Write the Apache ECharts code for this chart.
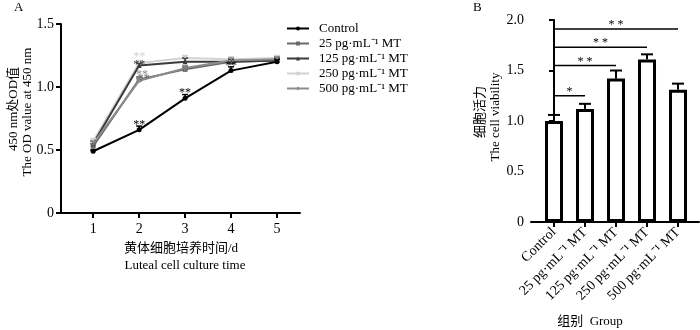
<!DOCTYPE html>
<html><head><meta charset="utf-8">
<script src="https://cdn.jsdelivr.net/npm/echarts@6/dist/echarts.min.js"></script>
<style>html,body{margin:0;padding:0;background:#fff}#c{width:700px;height:330px}</style>
</head><body><div id="c"></div>
<script>
// ---------- DATA ----------
const days = [1, 2, 3, 4, 5];
const seriesNames = ['Control', '25 pg·mL⁻¹ MT', '125 pg·mL⁻¹ MT', '250 pg·mL⁻¹ MT', '500 pg·mL⁻¹ MT'];
const controlOD = [0.49, 0.66, 0.91, 1.13, 1.20];
const mt25OD    = [0.53, 1.06, 1.14, 1.20, 1.21];
const mt125OD   = [0.55, 1.17, 1.20, 1.20, 1.21];
const mt250OD   = [0.57, 1.19, 1.23, 1.22, 1.23];
const mt500OD   = [0.55, 1.05, 1.15, 1.21, 1.22];
const controlErr = [0.01, 0.03, 0.03, 0.03, 0.02];
const mt25Err    = [0.02, 0.02, 0.02, 0.02, 0.02];
const mt125Err   = [0.02, 0.02, 0.03, 0.02, 0.02];
const mt250Err   = [0.02, 0.02, 0.02, 0.02, 0.02];
const mt500Err   = [0.02, 0.02, 0.02, 0.02, 0.02];
const yTicksA = [0, 0.5, 1.0, 1.5];
// significance marks in A: [day, value, text, seriesIndex]
const sigA = [
  [2, 0.72, '**', 0], [3, 0.98, '**', 0], [4, 1.19, '**', 0],
  [2, 1.26, '**', 3], [2, 1.20, '**', 2], [2.06, 1.12, '**', 4], [2.1, 1.09, '**', 1]
];

const groups = ['Control', '25 pg·mL⁻¹ MT', '125 pg·mL⁻¹ MT', '250 pg·mL⁻¹ MT', '500 pg·mL⁻¹ MT'];
const viability = [1.00, 1.12, 1.42, 1.61, 1.31];
const viabilityErr = [0.06, 0.05, 0.08, 0.05, 0.06];
const yTicksB = [0, 0.5, 1.0, 1.5, 2.0];
// brackets in B: [fromGroup, toGroup, value, text]
const sigB = [[0, 1, 1.25, '*'], [0, 2, 1.55, '* *'], [0, 3, 1.73, '* *'], [0, 4, 1.91, '* *']];

// ---------- STYLE ----------
const FONT = '"Liberation Serif", "Times New Roman", "Noto Sans CJK SC", serif';
const colors = ['#000000', '#6a6a6a', '#3a3a3a', '#d2d2d2', '#8c8c8c'];
const symbols = ['circle', 'rect', 'triangle', 'circle', 'diamond'];
const allOD = [controlOD, mt25OD, mt125OD, mt250OD, mt500OD];
const allErr = [controlErr, mt25Err, mt125Err, mt250Err, mt500Err];

const chart = echarts.init(document.getElementById('c'), null, {renderer: 'canvas'});

const axisLine = {show: true, lineStyle: {color: '#000', width: 2}};
const axisTick = {show: true, length: 5, inside: false, lineStyle: {color: '#000', width: 2}};
const labelStyle = {color: '#000', fontFamily: FONT, fontSize: 14};

function errRender(params, api) {
  const x = api.value(0), y = api.value(1), e = api.value(2);
  const p0 = api.coord([x, y]);
  const p1 = api.coord([x, y + e]);
  const c = api.visual('color');
  return {type: 'group', children: [
    {type: 'line', shape: {x1: p0[0], y1: p0[1], x2: p1[0], y2: p1[1]}, style: {stroke: c, lineWidth: 1.5}},
    {type: 'line', shape: {x1: p1[0] - 3, y1: p1[1], x2: p1[0] + 3, y2: p1[1]}, style: {stroke: c, lineWidth: 1.5}}
  ]};
}

const series = [];
allOD.forEach((arr, i) => {
  series.push({
    name: seriesNames[i], type: 'line', xAxisIndex: 0, yAxisIndex: 0,
    data: days.map((d, k) => [d, arr[k]]),
    symbol: symbols[i], symbolSize: 5, showSymbol: true,
    lineStyle: {color: colors[i], width: 2}, itemStyle: {color: colors[i]},
    z: i === 3 ? 2 : (i === 0 ? 6 : 4), animation: false
  });
  series.push({
    type: 'custom', xAxisIndex: 0, yAxisIndex: 0, color: colors[i],
    itemStyle: {color: colors[i]},
    data: days.map((d, k) => [d, arr[k], allErr[i][k]]),
    renderItem: errRender, z: 5, animation: false, silent: true
  });
});
series.push({
  type: 'custom', xAxisIndex: 0, yAxisIndex: 0, data: sigA, animation: false, silent: true, z: 7,
  renderItem: (params, api) => {
    const p = api.coord([api.value(0), api.value(1)]);
    const d = sigA[params.dataIndex];
    return {type: 'text', x: p[0], y: p[1] + 3, style: {text: d[2], fill: colors[d[3]], font: '12px ' + FONT, align: 'center', verticalAlign: 'middle'}};
  }
});
// Panel B bars
series.push({
  type: 'bar', xAxisIndex: 1, yAxisIndex: 1,
  data: groups.map((g, k) => [k, viability[k]]),
  barWidth: 18, itemStyle: {color: '#fff', borderColor: '#000', borderWidth: 3}, animation: false, z: 2
});
series.push({
  type: 'custom', xAxisIndex: 1, yAxisIndex: 1, itemStyle: {color: '#000'},
  data: groups.map((g, k) => [k, viability[k], viabilityErr[k]]),
  renderItem: (params, api) => {
    const x = api.value(0), y = api.value(1), e = api.value(2);
    const p0 = api.coord([x, y]), p1 = api.coord([x, y + e]);
    return {type: 'group', children: [
      {type: 'line', shape: {x1: p0[0], y1: p0[1], x2: p1[0], y2: p1[1]}, style: {stroke: '#000', lineWidth: 2}},
      {type: 'line', shape: {x1: p1[0] - 6, y1: p1[1], x2: p1[0] + 6, y2: p1[1]}, style: {stroke: '#000', lineWidth: 2}}
    ]};
  }, animation: false, z: 3
});
series.push({
  type: 'custom', xAxisIndex: 1, yAxisIndex: 1, data: sigB, animation: false, silent: true,
  renderItem: (params, api) => {
    const d = sigB[params.dataIndex];
    const a = api.coord([d[0], d[2]]), b = api.coord([d[1], d[2]]);
    return {type: 'group', children: [
      {type: 'line', shape: {x1: a[0], y1: a[1], x2: b[0], y2: b[1]}, style: {stroke: '#000', lineWidth: 1.5}},
      {type: 'text', x: (a[0] + b[0]) / 2, y: a[1] - 4, style: {text: d[3], fill: '#000', font: '12px ' + FONT, align: 'center', verticalAlign: 'middle'}}
    ]};
  }
});

const option = {
  backgroundColor: '#fff',
  animation: false,
  grid: [
    {left: 61, top: 24, width: 239, height: 189},
    {left: 531, top: 20, width: 168, height: 202}
  ],
  xAxis: [
    {gridIndex: 0, type: 'value', min: 0.3, max: 5.5, axisLine, axisTick: Object.assign({customValues: days}, axisTick),
     axisLabel: Object.assign({customValues: days, margin: 9}, labelStyle), splitLine: {show: false}},
    {gridIndex: 1, type: 'value', min: -0.742, max: 4.677, axisLine, axisTick: Object.assign({customValues: [0,1,2,3,4]}, axisTick),
     axisLabel: Object.assign({customValues: [0,1,2,3,4], rotate: 45, margin: 8, formatter: v => groups[Math.round(v)]}, labelStyle, {fontSize: 14}),
     splitLine: {show: false}}
  ],
  yAxis: [
    {gridIndex: 0, type: 'value', min: 0, max: 1.5, interval: 0.5, axisLine, axisTick,
     axisLabel: Object.assign({margin: 7, formatter: v => v === 0 ? '0' : v.toFixed(1)}, labelStyle), splitLine: {show: false}},
    {gridIndex: 1, type: 'value', min: 0, max: 2.0, interval: 0.5, axisLine, axisTick,
     axisLabel: Object.assign({margin: 7, formatter: v => v === 0 ? '0' : v.toFixed(1)}, labelStyle), splitLine: {show: false}}
  ],
  legend: {
    orient: 'vertical', left: 286, top: 22, padding: 0, itemGap: 2, itemWidth: 22, itemHeight: 5,
    data: seriesNames, textStyle: {fontFamily: FONT, fontSize: 13, color: '#000', padding: [0, 0, 0, 5]},
    selectedMode: false
  },
  graphic: [
    {type: 'text', left: 14, top: 1, style: {text: 'A', font: '13px ' + FONT, fill: '#000'}},
    {type: 'text', left: 473, top: 1, style: {text: 'B', font: '13px ' + FONT, fill: '#000'}},
    {type: 'text', x: 14, y: 109, rotation: Math.PI / 2, style: {text: '450 nm处OD值', font: '13px ' + FONT, fill: '#000', align: 'center', verticalAlign: 'middle'}},
    {type: 'text', x: 28, y: 112, rotation: Math.PI / 2, style: {text: 'The OD value at 450 nm', font: '13px ' + FONT, fill: '#000', align: 'center', verticalAlign: 'middle'}},
    {type: 'text', x: 181, y: 249, style: {text: '黄体细胞培养时间/d', font: '13px ' + FONT, fill: '#000', align: 'center', verticalAlign: 'middle'}},
    {type: 'text', x: 185, y: 266, style: {text: 'Luteal cell culture time', font: '13px ' + FONT, fill: '#000', align: 'center', verticalAlign: 'middle'}},
    {type: 'text', x: 481, y: 112, rotation: Math.PI / 2, style: {text: '细胞活力', font: '13px ' + FONT, fill: '#000', align: 'center', verticalAlign: 'middle'}},
    {type: 'text', x: 496, y: 117, rotation: Math.PI / 2, style: {text: 'The cell viability', font: '13px ' + FONT, fill: '#000', align: 'center', verticalAlign: 'middle'}},
    {type: 'text', x: 590, y: 322, style: {text: '组别  Group', font: '13px ' + FONT, fill: '#000', align: 'center', verticalAlign: 'middle'}}
  ],
  series
};
chart.setOption(option);
</script>
</body></html>
